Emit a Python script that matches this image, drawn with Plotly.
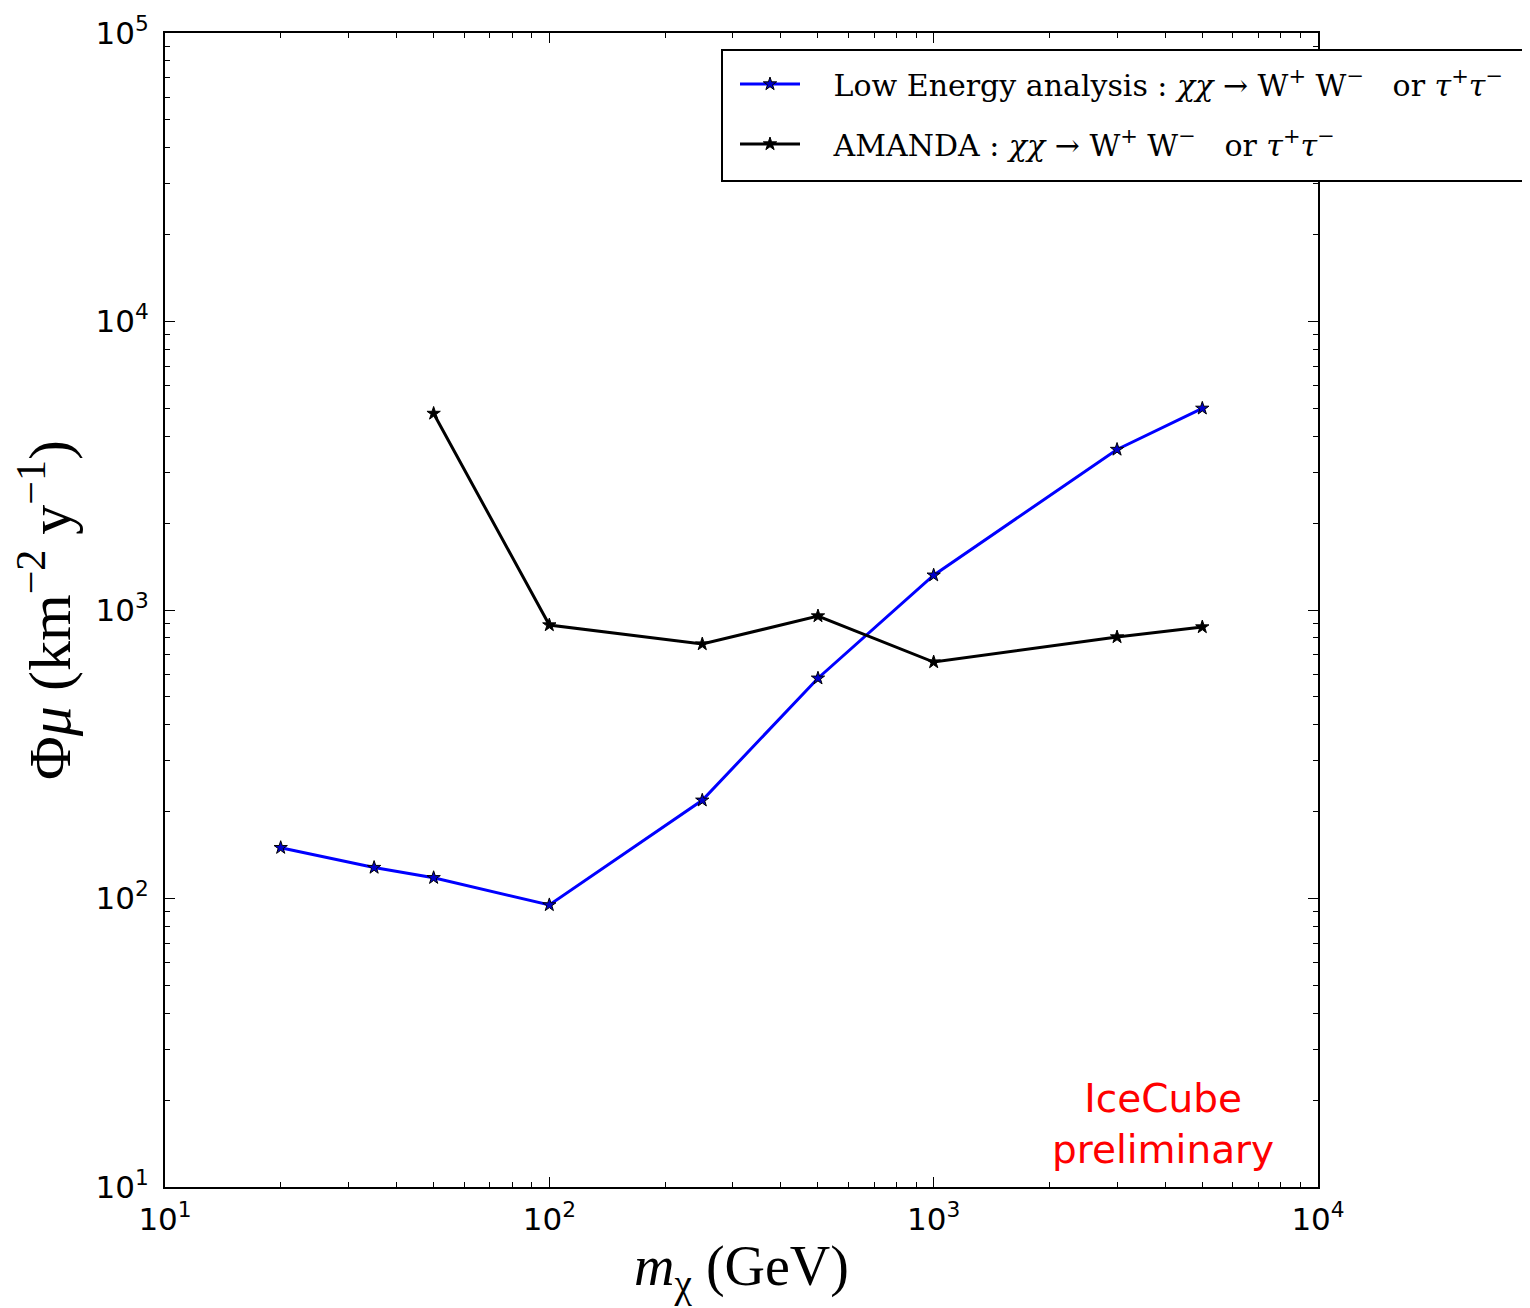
import plotly.graph_objects as go

# Data
mass_low = [20, 35, 50, 100, 250, 500, 1000, 3000, 5000]
flux_low = [150, 128, 118, 95, 219, 580, 1320, 3600, 5000]
mass_amanda = [50, 100, 250, 500, 1000, 3000, 5000]
flux_amanda = [4800, 887, 762, 953, 660, 806, 873]

x_tickvals = [10, 100, 1000, 10000]
x_ticktext = ["10<sup>1</sup>", "10<sup>2</sup>", "10<sup>3</sup>", "10<sup>4</sup>"]
y_tickvals = [10, 100, 1000, 10000, 100000]
y_ticktext = ["10<sup>1</sup>", "10<sup>2</sup>", "10<sup>3</sup>", "10<sup>4</sup>", "10<sup>5</sup>"]

PAD = "\u00a0\u00a0\u00a0"
name_low = PAD + "Low Energy analysis\u00a0: <i>χχ</i> → W<sup>+</sup> W<sup>−</sup>\u00a0\u00a0 or <i>τ</i><sup>+</sup><i>τ</i><sup>−</sup>"
name_amanda = PAD + "AMANDA\u00a0: <i>χχ</i> → W<sup>+</sup> W<sup>−</sup>\u00a0\u00a0 or <i>τ</i><sup>+</sup><i>τ</i><sup>−</sup>"

SERIF = "Liberation Serif"
LEG_SERIF = "DejaVu Serif"
SANS = "DejaVu Sans"

# page offset (body margin) = 8px; plot area in page px: x 165..1318, y 33..1187
W, H = 1522, 1300
L, T = 157, 25
PW, PH = 1153, 1154
R = W - L - PW
B = H - T - PH


def px_x(p):
    return (p - 165) / PW


def px_y(p):
    return (1187 - p) / PH


fig = go.Figure()
fig.add_trace(go.Scatter(
    x=mass_low, y=flux_low, mode="lines+markers", name=name_low, legendgroup="low",
    line=dict(color="#0000ff", width=3),
    marker=dict(symbol="star", size=10, color="#0000cc", line=dict(color="black", width=1)),
))
fig.add_trace(go.Scatter(
    x=mass_amanda, y=flux_amanda, mode="lines+markers", name=name_amanda, legendgroup="amanda",
    line=dict(color="black", width=3),
    marker=dict(symbol="star", size=10, color="black", line=dict(color="black", width=1)),
))

axis_common = dict(
    showline=True, linecolor="black", linewidth=2, mirror="allticks",
    ticks="inside", ticklen=10, tickwidth=1, tickcolor="black",
    showgrid=False, zeroline=False, automargin=False,
    tickfont=dict(family=SANS, size=31, color="black"),
    minor=dict(ticks="inside", ticklen=5, tickwidth=1, tickcolor="black", dtick="D1", showgrid=False),
)

fig.update_xaxes(
    type="log", range=[1, 4], tickmode="array", tickvals=x_tickvals, ticktext=x_ticktext,
    ticklabelstandoff=4,
    title=dict(text="<i>m</i><sub>χ</sub> (GeV)", font=dict(family=SERIF, size=56, color="black"), standoff=10),
    **axis_common,
)
fig.update_yaxes(
    type="log", range=[1, 5], tickmode="array", tickvals=y_tickvals, ticktext=y_ticktext,
    ticklabelstandoff=8,
    title=dict(text="Φ<i>μ</i> (km<sup>−2</sup> y<sup>−1</sup>)", font=dict(family=SERIF, size=60, color="black"), standoff=6),
    **axis_common,
)

fig.add_annotation(
    text="IceCube<br>preliminary", xref="paper", yref="paper", x=px_x(1163), y=px_y(1124),
    xanchor="center", yanchor="middle", showarrow=False, align="center",
    font=dict(family=SANS, size=39, color="red"),
)

# legend frame
fig.add_shape(
    type="rect", xref="paper", yref="paper",
    x0=px_x(722), x1=px_x(1529), y0=px_y(181), y1=px_y(50),
    line=dict(color="black", width=2), fillcolor="white", layer="above",
)

fig.update_layout(
    width=W, height=H,
    margin=dict(l=L, r=R, t=T, b=B, autoexpand=False),
    plot_bgcolor="white", paper_bgcolor="white",
    legend=dict(
        x=px_x(735), y=px_y(58), xanchor="left", yanchor="top",
        borderwidth=0, bgcolor="rgba(0,0,0,0)",
        font=dict(family=LEG_SERIF, size=30, color="black"),
        itemwidth=60, tracegroupgap=18,
    ),
    showlegend=True,
)

fig.write_html("out.html")
